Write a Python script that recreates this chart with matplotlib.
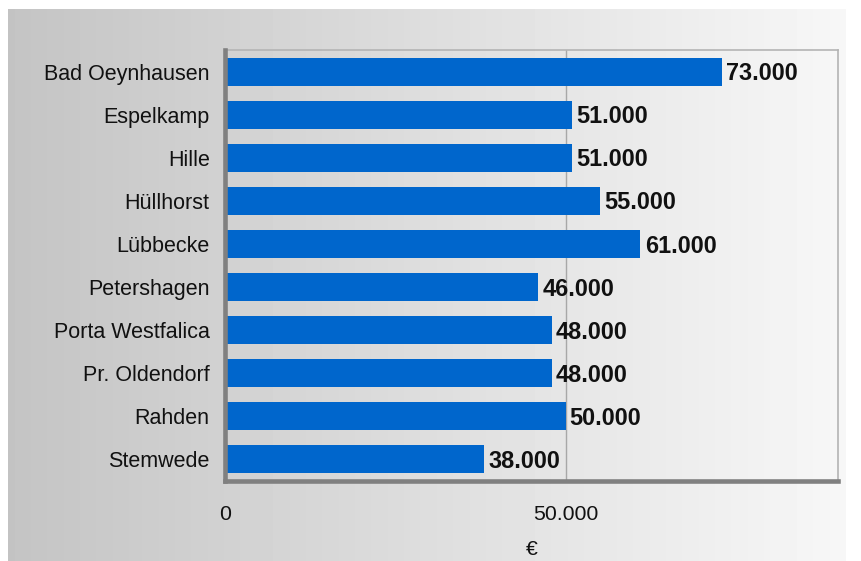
import numpy as np
import matplotlib
matplotlib.use("Agg")
import matplotlib.pyplot as plt

plt.rcParams["font.family"] = ["Liberation Sans", "DejaVu Sans"]

# data
towns = ["Bad Oeynhausen", "Espelkamp", "Hille", "Hüllhorst", "Lübbecke",
         "Petershagen", "Porta Westfalica", "Pr. Oldendorf", "Rahden", "Stemwede"]
values = [73000, 51000, 51000, 55000, 61000, 46000, 48000, 48000, 50000, 38000]
xticks = [0, 50000]
xtick_labels = ["0", "50.000"]

W, H = 862, 561
fig = plt.figure(figsize=(W / 100, H / 100), dpi=100)
fig.patch.set_facecolor("white")

# grey-to-white horizontal gradient behind everything
bg = fig.add_axes([8 / W, 0, (846 - 8) / W, 1 - 9 / H], zorder=0)
grad = np.linspace(196, 247, 256) / 255
bg.imshow(np.tile(grad, (2, 1)), cmap="gray", vmin=0, vmax=1,
          aspect="auto", extent=[0, 1, 0, 1])
bg.set_axis_off()

left, right, top, bottom = 225, 838, 50, 481
ax = fig.add_axes([left / W, 1 - bottom / H, (right - left) / W, (bottom - top) / H],
                  zorder=1)
ax.patch.set_alpha(0)

y = np.arange(len(towns))
ax.barh(y, values, height=0.65, color="#0066CC", zorder=2)
for yi, v in zip(y, values):
    ax.annotate(f"{v // 1000}.000", (v, yi), xytext=(3, -1.5), textcoords="offset points",
                va="center", ha="left", fontsize=16.9, fontweight="bold", color="#111111")

ax.set_xlim(0, 90000)
ax.set_ylim(len(towns) - 0.5, -0.5)
ax.set_yticks(y)
ax.set_yticklabels(towns, fontsize=15.5, color="#111111")
ax.set_xticks(xticks)
ax.set_xticklabels(xtick_labels, fontsize=15.3, color="#111111")
ax.tick_params(axis="y", length=0, pad=11)
ax.tick_params(axis="x", length=0, pad=17)
ax.set_xlabel("€", fontsize=15.3, labelpad=12, color="#111111")

ax.axvline(50000, color="#a8a8a8", lw=1, zorder=1)

for side in ("left", "bottom"):
    ax.spines[side].set_color("#808080")
    ax.spines[side].set_linewidth(3.3)
    ax.spines[side].set_capstyle("projecting")
    ax.spines[side].set_zorder(3)
for side in ("top", "right"):
    ax.spines[side].set_color("#b4b4b4")
    ax.spines[side].set_linewidth(1.2)

fig.savefig("out.png", dpi=100)
